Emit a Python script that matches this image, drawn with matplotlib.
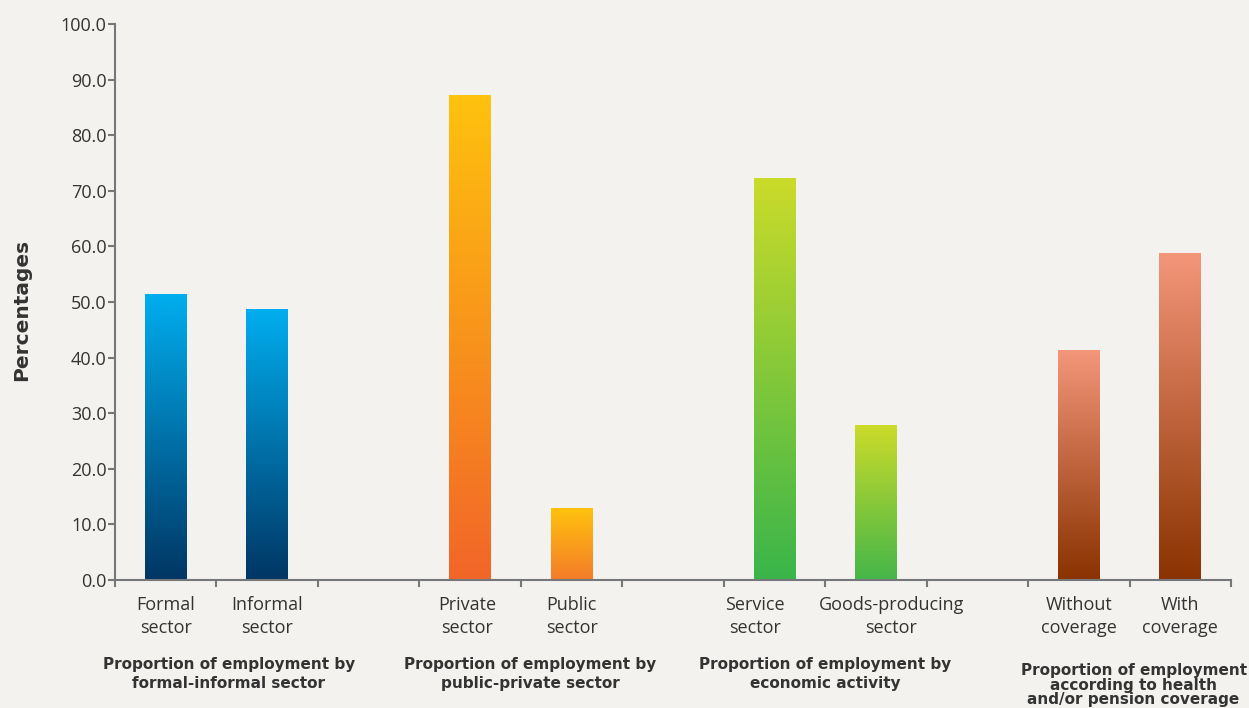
import numpy as np
import matplotlib.pyplot as plt
from matplotlib.colors import LinearSegmentedColormap

# data
categories = ["Formal\nsector", "Informal\nsector", "",
              "Private\nsector", "Public\nsector", "",
              "Service\nsector", "Goods-producing\nsector", "",
              "Without\ncoverage", "With\ncoverage"]
values = [51.4, 48.6, None, 87.1, 12.8, None, 72.3, 27.7, None, 41.2, 58.8]
group_labels = ["Proportion of employment by\nformal-informal sector",
                "Proportion of employment by\npublic-private sector",
                "Proportion of employment by\neconomic activity",
                "Proportion of employment\naccording to health\nand/or pension coverage"]
group_centers = [1.12, 4.09, 7.0, 10.04]
# small horizontal nudges of the category labels (in slot units)
label_shift = [0, 0, 0, -0.03, 0, 0, -0.19, 0.15, 0, 0, 0]

# gradient (top colour, bottom colour) per bar
bar_colors = [("#00AEEF", "#003664"), ("#00AEEF", "#003664"), None,
              ("#FFC20E", "#F26529"), ("#FFC20E", "#F47B2A"), None,
              ("#CBDB2A", "#39B54A"), ("#CBDB2A", "#45B649"), None,
              ("#F4967A", "#8A3200"), ("#F4967A", "#8A3200")]

bg = "#F3F2EE"
fig = plt.figure(figsize=(12.49, 7.08), dpi=100, facecolor=bg)
ax = fig.add_axes([0.0921, 0.1808, 0.8935, 0.7853], facecolor=bg)

x = np.arange(len(categories)) + 0.5
width = 0.41
for xi, v, c in zip(x, values, bar_colors):
    if v is None:
        continue
    cmap = LinearSegmentedColormap.from_list("g", [c[1], c[0]])
    grad = np.linspace(0, 1, 256).reshape(-1, 1)
    ax.imshow(grad, cmap=cmap, origin="lower", aspect="auto",
              extent=(xi - width / 2, xi + width / 2, 0, v), zorder=2)

ax.set_xlim(0, len(categories))
ax.set_ylim(0, 100)
ax.set_yticks(np.arange(0, 101, 10))
ax.set_yticklabels([f"{t:.1f}" for t in np.arange(0, 101, 10)])
ax.set_xticks(np.arange(0, len(categories) + 1))
ax.set_xticklabels([])

spine_c = "#76777A"
for s in ["top", "right"]:
    ax.spines[s].set_visible(False)
for s in ["left", "bottom"]:
    ax.spines[s].set_color(spine_c)
    ax.spines[s].set_linewidth(1.5)
ax.tick_params(axis="both", direction="out", length=5, width=1.5,
               color=spine_c, labelcolor="#333333", labelsize=13)
ax.tick_params(axis="y", pad=1)
for lab in ax.get_yticklabels():
    lab.set_fontfamily("Open Sans")

tr = ax.get_xaxis_transform()
for xi, lab, sh in zip(x, categories, label_shift):
    if lab:
        ax.text(xi + sh, -0.029, lab, transform=tr, ha="center", va="top",
                fontsize=13, family="Open Sans", color="#333333",
                linespacing=1.35)

for gx, gl in zip(group_centers, group_labels):
    nlines = gl.count("\n") + 1
    ax.text(gx, -0.139 if nlines == 2 else -0.149, gl, transform=tr,
            ha="center", va="top", fontsize=11, fontweight="bold",
            color="#333333", linespacing=1.35 if nlines == 2 else 0.98,
            family="DejaVu Sans")

ax.set_ylabel("Percentages", fontsize=14.5, fontweight="bold",
              color="#333333", family="DejaVu Sans")
ax.yaxis.set_label_coords(-0.075, 0.485)

fig.savefig("out.png", dpi=100, facecolor=bg)
